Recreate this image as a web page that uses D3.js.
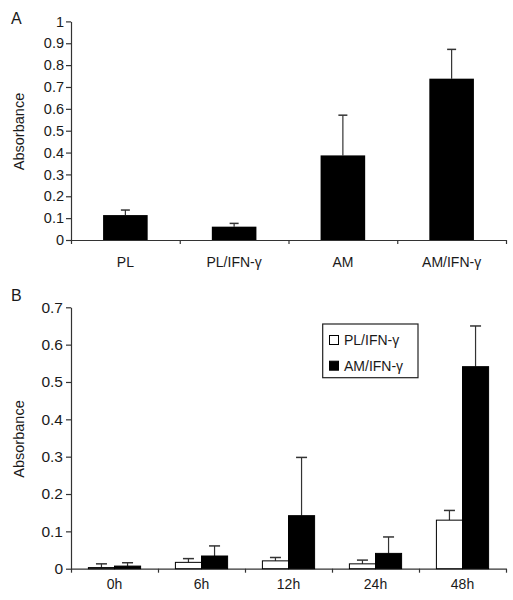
<!DOCTYPE html>
<html><head><meta charset="utf-8">
<script src="https://cdn.jsdelivr.net/npm/d3@7"></script>
<style>
body{margin:0;background:#fff;}
svg text{font-family:"Liberation Sans",Arial,sans-serif;}
</style></head>
<body><svg id="c" width="513" height="600"></svg>
<script>
// Panel A data
const catsA = ["PL", "PL/IFN-γ", "AM", "AM/IFN-γ"];
const valsA = [0.114, 0.061, 0.387, 0.738];
const errA  = [0.023, 0.015, 0.184, 0.134];
const ticksA = [0,0.1,0.2,0.3,0.4,0.5,0.6,0.7,0.8,0.9,1];

// Panel B data
const catsB = ["0h", "6h", "12h", "24h", "48h"];
const seriesB = ["PL/IFN-γ", "AM/IFN-γ"];
const plB  = [0.003, 0.017, 0.021, 0.013, 0.130];
const plErrB = [0.010, 0.010, 0.009, 0.010, 0.026];
const amB  = [0.007, 0.034, 0.142, 0.041, 0.541];
const amErrB = [0.009, 0.027, 0.156, 0.044, 0.109];
const ticksB = [0,0.1,0.2,0.3,0.4,0.5,0.6,0.7];

const svg = d3.select("#c");
const ink = "#1a1a1a";
const fs = 14;

function styleAxis(g, size){
  g.selectAll("path,line").attr("stroke", "#333").attr("stroke-width", 1.2);
  g.selectAll("text").attr("fill", ink).style("font-size", (size||fs)+"px");
}

// ---------- Panel A ----------
{
  const x0 = 71, x1 = 506, yTop = 21.4, yBot = 240;
  const y = d3.scaleLinear().domain([0,1]).range([yBot, yTop]);
  const xb = d3.scaleBand().domain(catsA).range([x0, x1]).paddingInner(0.59).paddingOuter(0.295);
  const xt = d3.scaleLinear().domain([0, catsA.length]).range([x0, x1]);

  const gy = svg.append("g").attr("transform", `translate(${x0},0)`)
    .call(d3.axisLeft(y).tickValues(ticksA).tickFormat(d => d3.format("")(+d.toFixed(1))).tickSize(5).tickPadding(2).tickSizeOuter(0));
  styleAxis(gy, 14.5);
  const gx = svg.append("g").attr("transform", `translate(0,${yBot})`)
    .call(d3.axisBottom(xt).tickValues(d3.range(catsA.length+1)).tickFormat("").tickSize(4).tickSizeOuter(0));
  styleAxis(gx);

  catsA.forEach((c,i) => {
    const cx = xb(c) + xb.bandwidth()/2;
    svg.append("line").attr("x1",cx).attr("x2",cx).attr("y1",y(valsA[i])).attr("y2",y(valsA[i]+errA[i])).attr("stroke","#333").attr("stroke-width",1.2);
    svg.append("line").attr("x1",cx-4.5).attr("x2",cx+4.5).attr("y1",y(valsA[i]+errA[i])).attr("y2",y(valsA[i]+errA[i])).attr("stroke","#333").attr("stroke-width",1.5);
  });
  svg.append("g").selectAll("rect").data(catsA).join("rect")
    .attr("x", d => xb(d)).attr("width", xb.bandwidth())
    .attr("y", (d,i) => y(valsA[i])).attr("height", (d,i) => yBot - y(valsA[i]))
    .attr("fill", "#000");

  svg.append("g").selectAll("text").data(catsA).join("text")
    .attr("x", d => xb(d) + xb.bandwidth()/2).attr("y", 266.5)
    .attr("text-anchor","middle").style("font-size", fs+"px").attr("fill", ink).text(d => d);

  svg.append("text").attr("transform","translate(24,131.5) rotate(-90)").attr("text-anchor","middle")
    .style("font-size", "14.5px").attr("fill", ink).text("Absorbance");
  svg.append("text").attr("x",11).attr("y",23.5).style("font-size","16px").attr("fill",ink).text("A");
}

// ---------- Panel B ----------
{
  const x0 = 71, x1 = 506, yTop = 307.3, yBot = 568.7;
  const y = d3.scaleLinear().domain([0,0.7]).range([yBot, yTop]);
  const xb = d3.scaleBand().domain(catsB).range([x0, x1]).paddingInner(0.4).paddingOuter(0.2);
  const xs = d3.scaleBand().domain(seriesB).range([0, xb.bandwidth()]);
  const xt = d3.scaleLinear().domain([0, catsB.length]).range([x0, x1]);

  const gy = svg.append("g").attr("transform", `translate(${x0},0)`)
    .call(d3.axisLeft(y).tickValues(ticksB).tickFormat(d => d3.format("")(+d.toFixed(1))).tickSize(5).tickPadding(3).tickSizeOuter(0));
  styleAxis(gy, 15.5);
  const gx = svg.append("g").attr("transform", `translate(0,${yBot})`)
    .call(d3.axisBottom(xt).tickValues(d3.range(catsB.length+1)).tickFormat("").tickSize(4).tickSizeOuter(0));
  styleAxis(gx);

  const data = [];
  catsB.forEach((c,i) => {
    data.push({c, s: seriesB[0], v: plB[i], e: plErrB[i], fill: "#fff"});
    data.push({c, s: seriesB[1], v: amB[i], e: amErrB[i], fill: "#000"});
  });
  const g = svg.append("g");
  data.forEach(d => {
    const cx = xb(d.c) + xs(d.s) + xs.bandwidth()/2;
    g.append("line").attr("x1",cx).attr("x2",cx).attr("y1",y(d.v)).attr("y2",y(d.v+d.e)).attr("stroke","#333").attr("stroke-width",1.2);
    g.append("line").attr("x1",cx-5.5).attr("x2",cx+5.5).attr("y1",y(d.v+d.e)).attr("y2",y(d.v+d.e)).attr("stroke","#333").attr("stroke-width",1.5);
  });
  g.selectAll("rect").data(data).join("rect")
    .attr("x", d => xb(d.c) + xs(d.s)).attr("width", xs.bandwidth())
    .attr("y", d => y(d.v)).attr("height", d => yBot - y(d.v))
    .attr("fill", d => d.fill).attr("stroke", "#000").attr("stroke-width", 1);

  svg.append("g").selectAll("text").data(catsB).join("text")
    .attr("x", d => xb(d) + xb.bandwidth()/2).attr("y", 588.5)
    .attr("text-anchor","middle").style("font-size", fs+"px").attr("fill", ink).text(d => d);

  svg.append("text").attr("transform","translate(24,439) rotate(-90)").attr("text-anchor","middle")
    .style("font-size", "14.5px").attr("fill", ink).text("Absorbance");
  svg.append("text").attr("x",11).attr("y",301).style("font-size","16px").attr("fill",ink).text("B");

  const lg = svg.append("g");
  lg.append("rect").attr("x",322.7).attr("y",324).attr("width",95.3).attr("height",53.7)
    .attr("fill","#fff").attr("stroke","#222").attr("stroke-width",1.2);
  const fills = ["#fff", "#000"];
  const rowsY = [340, 365.7];
  seriesB.forEach((s,i) => {
    lg.append("rect").attr("x",329.5).attr("y",rowsY[i]-4.5).attr("width",9).attr("height",9)
      .attr("fill",fills[i]).attr("stroke","#000").attr("stroke-width",1);
    lg.append("text").attr("x",344).attr("y",rowsY[i]+5).style("font-size","14px").attr("fill",ink).text(s);
  });
}
</script></body></html>
